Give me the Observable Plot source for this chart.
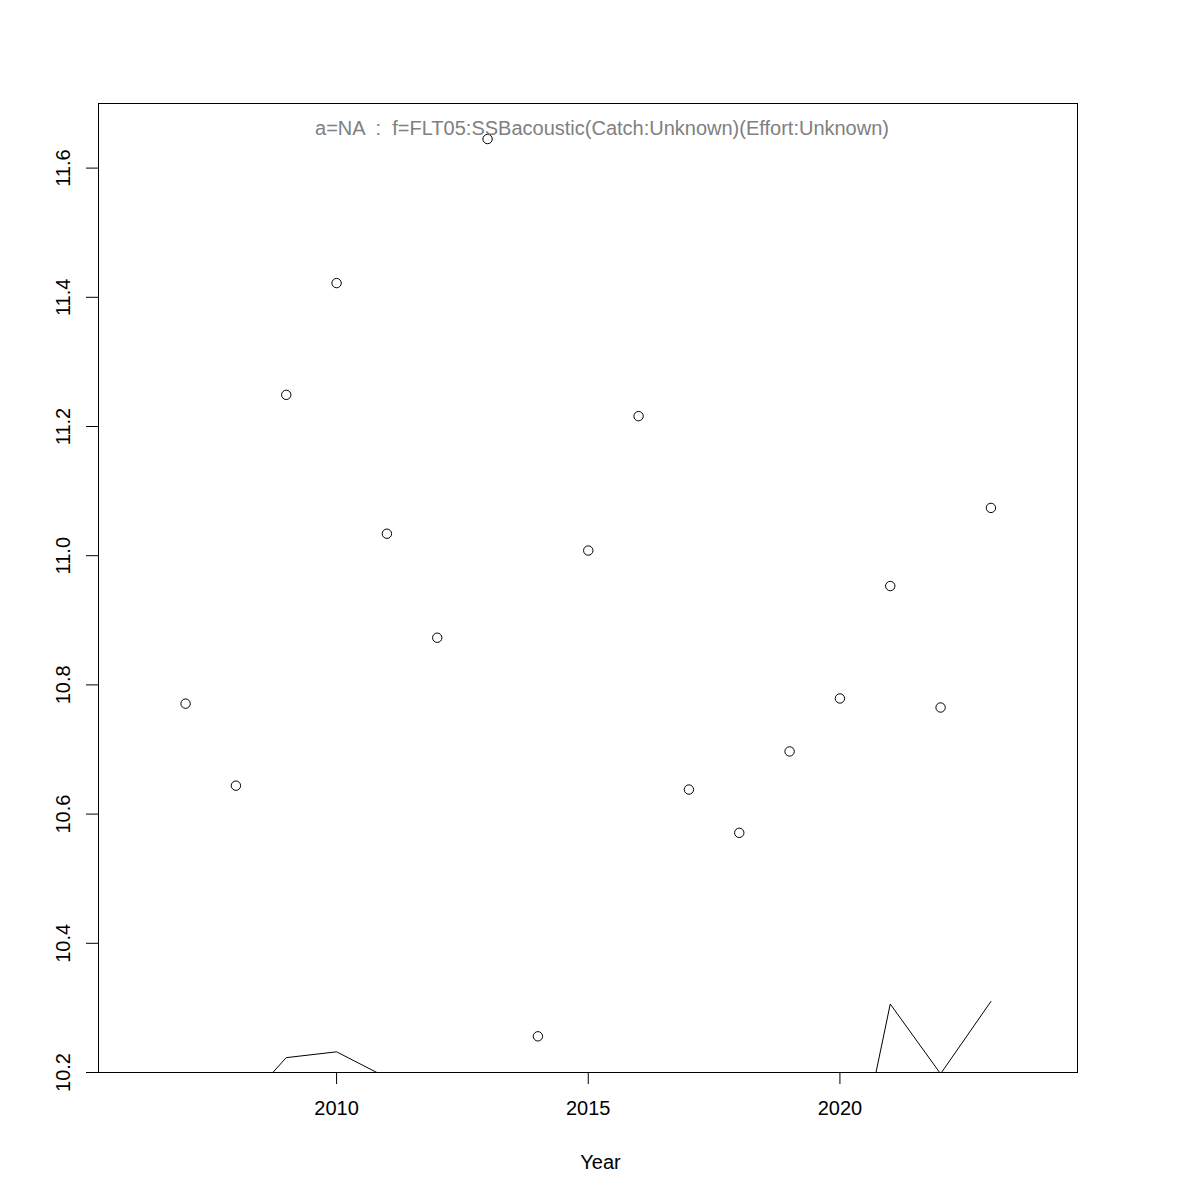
<!DOCTYPE html>
<html><head><meta charset="utf-8">
<script src="https://cdn.jsdelivr.net/npm/d3@7"></script>
<script src="https://cdn.jsdelivr.net/npm/@observablehq/plot@0.6"></script>
<style>
html,body{margin:0;padding:0;background:#fff;}
svg text{white-space:pre;}
</style></head><body><div id="chart"></div>
<script>
const years    = [2007, 2008, 2009, 2010, 2011, 2012, 2013, 2014, 2015, 2016, 2017, 2018, 2019, 2020, 2021, 2022, 2023];
const observed = [10.771, 10.644, 11.249, 11.422, 11.034, 10.873, 11.645, 10.256, 11.008, 11.216, 10.638, 10.571, 10.697, 10.779, 10.953, 10.765, 11.074];
// fitted line: values below the plot floor are clipped in the reference and cannot be read (null)
const fitted   = [null, 10.137, 10.223, 10.232, 10.192, null, null, null, null, null, null, null, null, 9.932, 10.306, 10.198, 10.310];
const xTicks = [2010, 2015, 2020];
const yTicks = [10.2, 10.4, 10.6, 10.8, 11.0, 11.2, 11.4, 11.6];
const xDomain = [2005.27, 2024.72];
const yDomain = [10.2, 11.7];
const titleText = "a=NA  :  f=FLT05:SSBacoustic(Catch:Unknown)(Effort:Unknown)";
const xLabel = "Year";

const obsData = years.map((year, i) => ({year, value: observed[i]}));
const fitData = years.map((year, i) => ({year, value: fitted[i]}));

const chart = Plot.plot({
  width: 1200, height: 1200,
  marginLeft: 98, marginRight: 123, marginTop: 103, marginBottom: 128,
  style: {fontFamily: "'Liberation Sans', Arial, Helvetica, sans-serif", fontSize: "20px", background: "#fff", color: "#000"},
  x: {domain: xDomain},
  y: {domain: yDomain},
  marks: [
    Plot.line(fitData, {x: "year", y: "value", stroke: "#000", strokeWidth: 1, clip: true}),
    Plot.dot(obsData, {x: "year", y: "value", r: 4.7, stroke: "#000", strokeWidth: 1, fill: "none"}),
    Plot.frame({stroke: "#000", strokeWidth: 1}),
    Plot.ruleY([yDomain[0]], {x1: xTicks[0], x2: xTicks[xTicks.length - 1], stroke: "#000"}),
    Plot.ruleX([xDomain[0]], {y1: yTicks[0], y2: yTicks[yTicks.length - 1], stroke: "#000"}),
    Plot.axisX(xTicks, {tickSize: 12, tickPadding: 16, label: null, fontSize: 20, tickFormat: d => String(d)}),
    Plot.axisY(yTicks, {tickSize: 12, label: null, tickFormat: () => ""}),
    Plot.text(yTicks, {y: d => d, text: d => d.toFixed(1), frameAnchor: "left", dx: -34.5, rotate: -90, textAnchor: "middle", lineAnchor: "middle", fontSize: 20, fill: "#000"}),
    Plot.text([titleText], {text: d => d, frameAnchor: "top", dx: 14, dy: 25, lineAnchor: "middle", fill: "#808080", fontSize: 20}),
    Plot.text([xLabel], {text: d => d, frameAnchor: "bottom", dx: 12.5, dy: 90, lineAnchor: "middle", fill: "#000", fontSize: 20})
  ]
});
document.getElementById("chart").appendChild(chart);
</script></body></html>
